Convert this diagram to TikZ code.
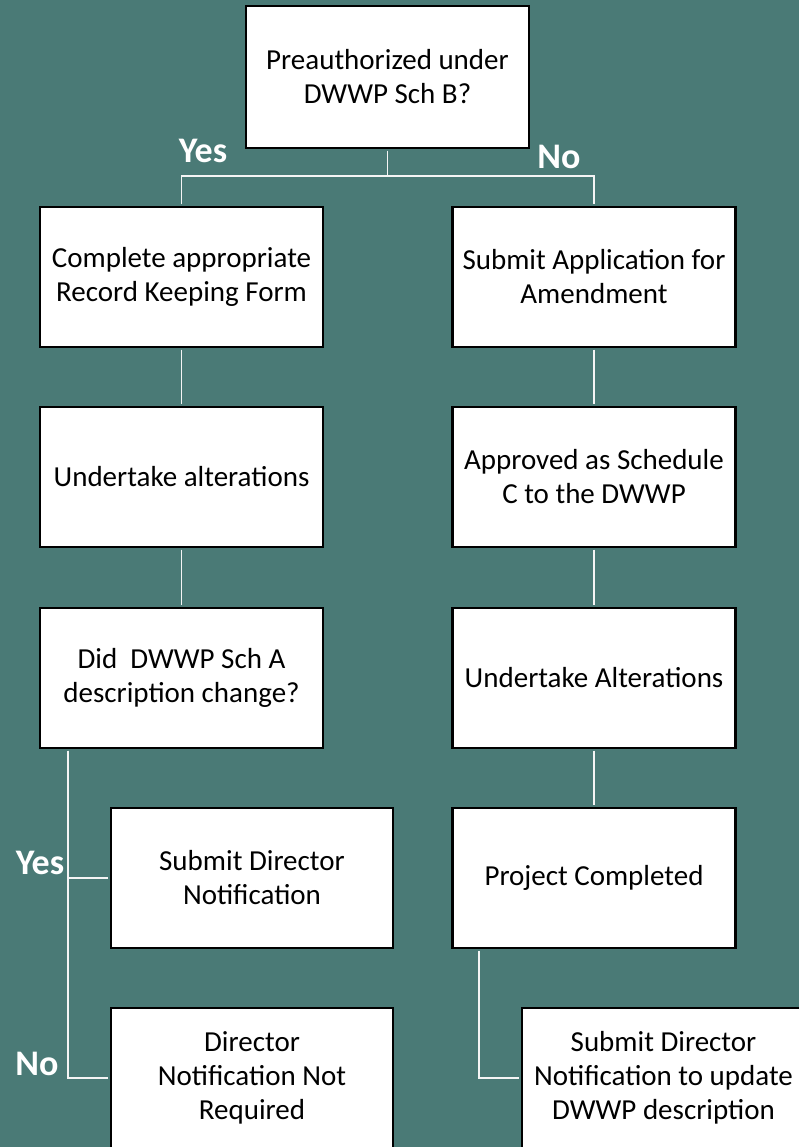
\documentclass[tikz,border=0pt]{standalone}
\usepackage{fontspec}
\setmainfont{Carlito}
\definecolor{bgteal}{RGB}{74,122,118}
\definecolor{linewhite}{RGB}{245,245,245}
\begin{document}
\begin{tikzpicture}[x=1pt,y=-1pt,
  box/.style={draw=black, line width=2.6pt, fill=white, minimum width=283pt, minimum height=140pt, inner sep=0pt, align=center, font=\fontsize{29}{34}\selectfont, text=black},
  conn/.style={draw=linewhite, line width=1.9pt, shorten <=1.3pt, shorten >=1.3pt},
  lbl/.style={text=white, font=\fontsize{36}{40}\selectfont\bfseries, inner sep=0pt}]
\useasboundingbox (0,0) rectangle (799,1147);
\fill[bgteal] (0,0) rectangle (799,1147);
\clip (0,0) rectangle (799,1147);

\node[box, minimum height=142pt] (top) at (387.5,77) {Preauthorized under\\DWWP Sch B?};
\node[box] (L1) at (181.5,277) {Complete appropriate\\Record Keeping Form};
\node[box] (L2) at (181.5,477) {Undertake alterations};
\node[box] (L3) at (181.5,678) {Did\ \ DWWP Sch A\\description change?};
\node[box, minimum width=282pt] (L4) at (252,878) {Submit Director\\Notification};
\node[box, minimum width=282pt] (L5) at (252,1078) {Director\\Notification Not\\Required};
\node[box] (R1) at (594,277) {Submit Application for\\Amendment};
\node[box] (R2) at (594,477) {Approved as Schedule\\C to the DWWP};
\node[box] (R3) at (594,678) {Undertake Alterations};
\node[box] (R4) at (594,878) {Project Completed};
\node[box] (R5) at (663.5,1078) {Submit Director\\Notification to update\\DWWP description};

\coordinate (j) at (387.5,177);
\draw[conn] (top.south) -- (j);
\draw[conn] (L1.north) -- ++(0,-30) -| (R1.north);
\draw[conn] (L1) -- (L2);
\draw[conn] (L2) -- (L3);
\draw[conn] (R1) -- (R2);
\draw[conn] (R2) -- (R3);
\draw[conn] (R3) -- (R4);
\draw[conn] ([xshift=29pt]L3.south west) |- (L4.west);
\draw[conn] ([xshift=29pt]L3.south west) |- (L5.west);
\draw[conn] ([xshift=28pt]R4.south west) |- (R5.west);

\node[lbl] (yes1) at (203,151) {Yes};
\node[lbl] (no1) at (559,157) {No};
\node[lbl] (yes2) at (40,863) {Yes};
\node[lbl] (no2) at (37,1064) {No};
\end{tikzpicture}
\end{document}
